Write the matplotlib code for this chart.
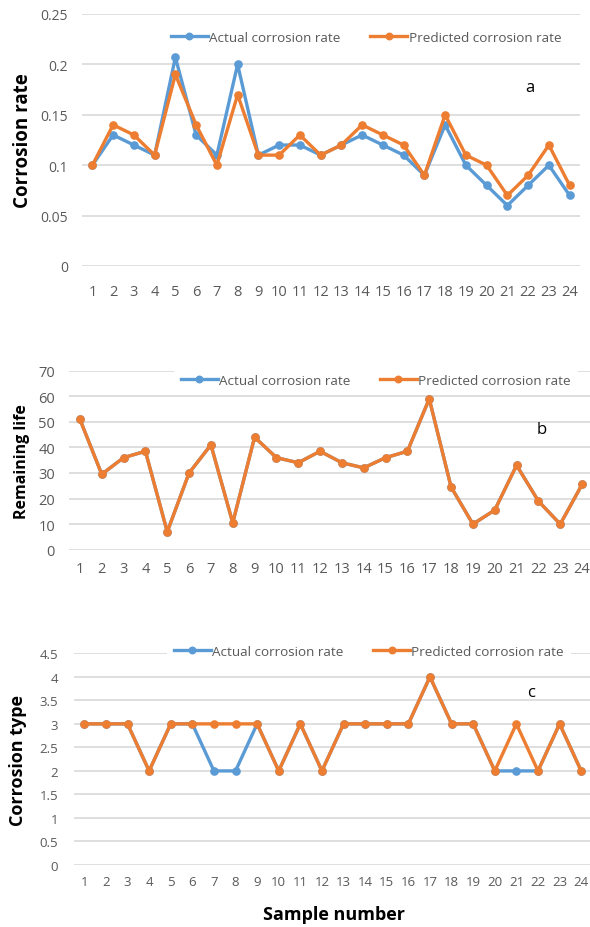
import matplotlib
matplotlib.use("Agg")
import matplotlib.pyplot as plt

# データ
samples = [str(i) for i in range(1, 25)]

rate_actual = [0.10, 0.13, 0.12, 0.11, 0.207, 0.13, 0.11, 0.20, 0.11, 0.12, 0.12, 0.11,
               0.12, 0.13, 0.12, 0.11, 0.09, 0.14, 0.10, 0.08, 0.06, 0.08, 0.10, 0.07]
rate_pred = [0.10, 0.14, 0.13, 0.11, 0.19, 0.14, 0.10, 0.17, 0.11, 0.11, 0.13, 0.11,
             0.12, 0.14, 0.13, 0.12, 0.09, 0.15, 0.11, 0.10, 0.07, 0.09, 0.12, 0.08]

life_actual = [51, 29.5, 36, 38.5, 7, 30, 41, 10.5, 44, 36, 34, 38.5,
               34, 32, 36, 38.5, 59, 24.5, 10, 15.5, 33, 19, 10, 25.5]
life_pred = [51, 29.5, 36, 38.5, 7, 30, 41, 10.5, 44, 36, 34, 38.5,
             34, 32, 36, 38.5, 59, 24.5, 10, 15.5, 33, 19, 10, 25.5]

type_actual = [3, 3, 3, 2, 3, 3, 2, 2, 3, 2, 3, 2, 3, 3, 3, 3, 4, 3, 3, 2, 2, 2, 3, 2]
type_pred = [3, 3, 3, 2, 3, 3, 3, 3, 3, 2, 3, 2, 3, 3, 3, 3, 4, 3, 3, 2, 3, 2, 3, 2]

BLUE = "#5B9BD5"
ORANGE = "#ED7D31"
GRAY = "#595959"
GRID = "#D9D9D9"
FONT = ["Open Sans", "DejaVu Sans"]

plt.rcParams["font.family"] = FONT

fig = plt.figure(figsize=(5.9, 9.28), dpi=100)


def make_panel(rect, actual, pred, ymax, ystep, yfmt, ylabel, ylab_size,
               xtick_size, ytick_size, xpad, ypad, leg_y, leg_x, letter, letter_xy):
    ax = fig.add_axes(rect)
    x = list(range(len(samples)))
    ax.plot(x, actual, color=BLUE, lw=2.4, marker="o", ms=5.2,
            label="Actual corrosion rate", zorder=3, clip_on=False)
    ax.plot(x, pred, color=ORANGE, lw=2.4, marker="o", ms=5.2,
            label="Predicted corrosion rate", zorder=4, clip_on=False)
    ax.set_xlim(-0.5, len(samples) - 0.5)
    ax.set_ylim(0, ymax)
    ticks = [i * ystep for i in range(int(round(ymax / ystep)) + 1)]
    ax.set_yticks(ticks)
    ax.set_yticklabels([yfmt(t) for t in ticks])
    ax.set_xticks(x)
    ax.set_xticklabels(samples)
    ax.tick_params(axis="x", length=0, pad=xpad, labelsize=xtick_size, colors=GRAY)
    ax.tick_params(axis="y", length=0, pad=ypad, labelsize=ytick_size, colors=GRAY)
    ax.yaxis.grid(True, color=GRID, lw=1.2)
    ax.set_axisbelow(True)
    for s in ax.spines.values():
        s.set_visible(False)
    ax.set_ylabel(ylabel, fontsize=ylab_size, fontweight="bold", color="black")
    leg = ax.legend(loc="center left", bbox_to_anchor=(leg_x, leg_y), ncol=2,
                    frameon=True, fontsize=9.7, handlelength=2.75, columnspacing=2.2,
                    handletextpad=0.1, borderpad=0.5, borderaxespad=0, markerscale=0.9)
    leg.get_frame().set_facecolor("white")
    leg.get_frame().set_edgecolor("none")
    leg.get_frame().set_alpha(1)
    for t in leg.get_texts():
        t.set_color(GRAY)
    ax.text(letter_xy[0], letter_xy[1], letter, transform=ax.transAxes,
            fontsize=12, color="black", ha="center", va="center")
    return ax


def fmt_rate(v):
    return "0" if v == 0 else ("%g" % round(v, 2))


def fmt_num(v):
    return "%g" % v


ax_a = make_panel([82 / 590, 1 - 267 / 928, 498 / 590, 252 / 928],
                  rate_actual, rate_pred, 0.25, 0.05, fmt_rate, "Corrosion rate", 13.5,
                  10.5, 10, 13, 10, 1 - 23 / 252, 0.165, "a", ((530 - 82) / 498, (267 - 88) / 252))
ax_a.yaxis.set_label_coords(-(82 - 33) / 498, 0.5)

ax_b = make_panel([69 / 590, 1 - 550.7 / 928, 524 / 590, 179 / 928],
                  life_actual, life_pred, 70, 10, fmt_num, "Remaining life", 11.5,
                  10.5, 10.5, 8, 10, 1 - 10 / 179, 0.2, "b", ((542 - 69) / 524, (550.7 - 430) / 179))
ax_b.yaxis.set_label_coords(-(69 - 30) / 524, 0.5)

ax_c = make_panel([73.5 / 590, 1 - 866 / 928, 518.5 / 590, 211.7 / 928],
                  type_actual, type_pred, 4.5, 0.5, fmt_num, "Corrosion type", 13,
                  9.5, 9.5, 7, 11, 1 + 2 / 211.7, 0.18, "c", ((531 - 73.5) / 518.5, (866 - 693) / 211.7))
ax_c.yaxis.set_label_coords(-(73.5 - 27) / 518.5, 0.5)

fig.text(334 / 590, 1 - 915 / 928, "Sample number", fontsize=13, fontweight="bold",
         ha="center", va="center")

fig.savefig("out.png", dpi=100)
